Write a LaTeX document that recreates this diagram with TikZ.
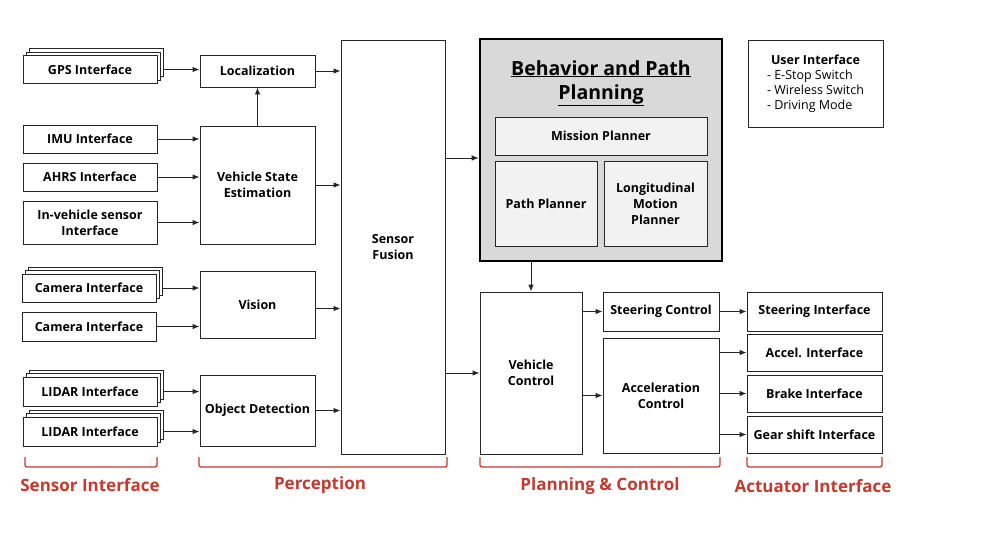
\documentclass[tikz,border=0pt]{standalone}
\usepackage{fontspec}
\setmainfont{Open Sans}
\usepackage{tikz}
\usetikzlibrary{arrows.meta,shadows}

\definecolor{brkred}{RGB}{200,56,44}
\definecolor{bppgray}{RGB}{217,217,217}
\definecolor{subgray}{RGB}{242,242,242}

\begin{document}
\begin{tikzpicture}[x=1pt,y=-1pt,
    blk/.style={draw=black!85, line width=0.9pt, fill=white, align=center,
        font=\bfseries\fontsize{12.5}{16}\selectfont, inner sep=2pt},
    stack/.style={blk, double copy shadow={shadow xshift=3pt, shadow yshift=3.5pt}},
    sub/.style={blk, fill=subgray},
    link/.style={-{Latex[length=7pt,width=5.5pt]}, line width=0.9pt, black!85},
    brk/.style={brkred, line width=1.3pt, rounded corners=2pt},
    grp/.style={brkred, font=\bfseries\fontsize{17}{20}\selectfont}]
    \useasboundingbox (0,0) rectangle (992,550);

    % Sensor interface
    \node[stack, minimum width=134pt, minimum height=28pt] (gps) at (90,69.5) {GPS Interface};
    \node[blk, minimum width=134pt, minimum height=28pt] (imu) at (90,139) {IMU Interface};
    \node[blk, minimum width=134pt, minimum height=28pt] (ahrs) at (90,177) {AHRS Interface};
    \node[blk, minimum width=134pt, minimum height=43pt] (inveh) at (90,222.5) {In-vehicle sensor\\Interface};
    \node[stack, minimum width=134pt, minimum height=28pt] (cama) at (89,288) {Camera Interface};
    \node[blk, minimum width=134pt, minimum height=29pt] (camb) at (89,326.5) {Camera Interface};
    \node[stack, minimum width=134pt, minimum height=29pt] (lida) at (90,391.5) {LIDAR Interface};
    \node[stack, minimum width=134pt, minimum height=29pt] (lidb) at (90,431.5) {LIDAR Interface};

    % Perception
    \node[blk, minimum width=115pt, minimum height=32pt] (loc) at (257.5,71) {Localization};
    \node[blk, minimum width=115pt, minimum height=118pt] (vse) at (257.5,185) {Vehicle State\\Estimation};
    \node[blk, minimum width=115pt, minimum height=67pt] (vis) at (257.5,304.5) {Vision};
    \node[blk, minimum width=115pt, minimum height=71pt] (obj) at (257.5,410.5) {Object Detection};
    \node[blk, minimum width=104pt, minimum height=414pt] (fus) at (393,247) {Sensor\\Fusion};

    % Behavior and path planning
    \node[draw=black, line width=2.6pt, fill=bppgray, minimum width=242pt, minimum height=222pt] (bpp) at (601,150) {};
    \node[font=\bfseries\fontsize{19.5}{24}\selectfont, align=center] (bpptitle) at (601,83) {\underline{Behavior and Path}\\\underline{Planning}};
    \node[sub, minimum width=212pt, minimum height=38pt] (mis) at (601,136) {Mission Planner};
    \node[sub, minimum width=102pt, minimum height=85pt] (pth) at (546,203.5) {Path Planner};
    \node[sub, minimum width=103pt, minimum height=85pt] (lng) at (655.5,203.5) {Longitudinal\\Motion\\Planner};

    % User interface
    \node[blk, align=left, font=\fontsize{12.5}{15}\selectfont, minimum width=135pt, minimum height=87pt] (ui) at (815.5,83.5)
        {\hspace*{4pt}\textbf{User Interface}\\- E-Stop Switch\\- Wireless Switch\\- Driving Mode};

    % Control
    \node[blk, minimum width=102pt, minimum height=162pt] (vc) at (531,373) {Vehicle\\Control};
    \node[blk, minimum width=116pt, minimum height=39pt] (sc) at (661,311.5) {Steering Control};
    \node[blk, minimum width=116pt, minimum height=115pt] (ac) at (661,395.5) {Acceleration\\Control};

    % Actuator interface
    \node[blk, minimum width=135pt, minimum height=39pt] (sti) at (814.5,311.5) {Steering Interface};
    \node[blk, minimum width=135pt, minimum height=37pt] (aci) at (814.5,352.5) {Accel. Interface};
    \node[blk, minimum width=135pt, minimum height=37pt] (bri) at (814.5,393.5) {Brake Interface};
    \node[blk, minimum width=135pt, minimum height=37pt] (gsi) at (814.5,434.5) {Gear shift Interface};

    % links
    \draw[link] ([xshift=6pt]gps.east) -- (gps.east -| loc.west);
    \draw[link] (imu.east) -- (imu.east -| vse.west);
    \draw[link] (ahrs.east) -- (ahrs.east -| vse.west);
    \draw[link] (inveh.east) -- (inveh.east -| vse.west);
    \draw[link] ([xshift=6pt]cama.east) -- (cama.east -| vis.west);
    \draw[link] (camb.east) -- (camb.east -| vis.west);
    \draw[link] ([xshift=6pt]lida.east) -- (lida.east -| obj.west);
    \draw[link] ([xshift=6pt]lidb.east) -- (lidb.east -| obj.west);
    \draw[link] (vse.north) -- (loc.south);
    \draw[link] (loc.east) -- (loc.east -| fus.west);
    \draw[link] (vse.east) -- (vse.east -| fus.west);
    \draw[link] ([yshift=-4pt]vis.east) -- ([yshift=-4pt]vis.east -| fus.west);
    \draw[link] (obj.east) -- (obj.east -| fus.west);
    \draw[link] ([yshift=-8pt]bpp.west -| fus.east) -- ([yshift=-8pt]bpp.west);
    \draw[link] (vc.north |- bpp.south) -- (vc.north);
    \draw[link] (vc.west -| fus.east) -- (vc.west);
    \draw[link] (sc.west -| vc.east) -- (sc.west);
    \draw[link] (ac.west -| vc.east) -- (ac.west);
    \draw[link] (sc.east) -- (sti.west);
    \draw[link] (aci.west -| ac.east) -- (aci.west);
    \draw[link] (bri.west -| ac.east) -- (bri.west);
    \draw[link] (gsi.west -| ac.east) -- (gsi.west);

    % group brackets
    \draw[brk] (25,457) -- (25,467) -- (157,467) -- (157,457);
    \draw[brk] (199,457) -- (199,467) -- (447,467) -- (447,457);
    \draw[brk] (480,457) -- (480,467) -- (720,467) -- (720,457);
    \draw[brk] (747,457) -- (747,467) -- (882,467) -- (882,457);
    \node[grp] (gsens) at (90,485) {Sensor Interface};
    \node[grp] (gperc) at (320,485) {Perception};
    \node[grp] (gplan) at (600,486) {Planning \& Control};
    \node[grp] (gact) at (813,486) {Actuator Interface};
\end{tikzpicture}
\end{document}
